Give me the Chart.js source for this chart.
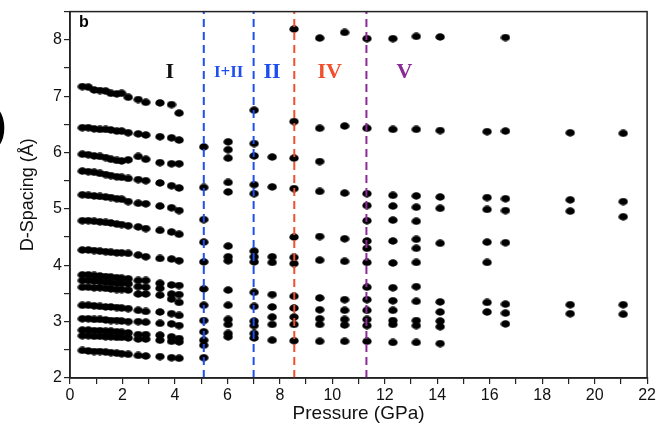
<!DOCTYPE html>
<html>
<head>
<meta charset="utf-8">
<script src="https://cdn.jsdelivr.net/npm/chart.js@4.4.1/dist/chart.umd.min.js"></script>
<style>
  html, body { margin: 0; padding: 0; background: #fff; }
  #wrap { width: 658px; height: 425px; position: relative; }
</style>
</head>
<body>
<div id="wrap"><canvas id="chart"></canvas></div>
<script>
// phase I: pressures (GPa) shared by every reflection row
const phaseIPressure = [0.47, 0.70, 0.92, 1.14, 1.36, 1.56, 1.78, 1.97, 2.22, 2.60, 2.89, 3.43, 3.87, 4.16];
// d-spacing (Å) of each reflection row, read left to right
const phaseIRows = [
  [7.17, 7.16, 7.11, 7.10, 7.09, 7.05, 7.04, 7.05, 6.98, 6.94, 6.89, 6.88, 6.85, 6.70],
  [6.44, 6.44, 6.42, 6.41, 6.41, 6.40, 6.38, 6.38, 6.35, 6.33, 6.31, 6.28, 6.26, 6.22],
  [5.97, 5.96, 5.94, 5.93, 5.91, 5.88, 5.86, 5.85, 5.87, 5.93, 5.88, 5.82, 5.80, 5.80],
  [5.67, 5.66, 5.65, 5.63, 5.61, 5.59, 5.57, 5.56, 5.54, 5.52, 5.50, 5.46, 5.41, 5.37],
  [5.25, 5.24, 5.23, 5.22, 5.21, 5.20, 5.18, 5.17, 5.13, 5.10, 5.09, 5.05, 5.02, 4.97],
  [4.79, 4.79, 4.78, 4.77, 4.76, 4.75, 4.73, 4.72, 4.70, 4.68, 4.65, 4.62, 4.59, 4.55],
  [4.27, 4.27, 4.26, 4.25, 4.24, 4.23, 4.22, 4.22, 4.21, 4.18, 4.15, 4.12, 4.11, 4.08],
  [3.83, 3.83, 3.82, 3.81, 3.80, 3.79, 3.78, 3.77, 3.76, 3.73, 3.73, 3.68, 3.65, 3.64],
  [3.73, 3.73, 3.72, 3.71, 3.70, 3.69, 3.68, 3.68, 3.67, 3.62, 3.61, 3.59, 3.49, 3.48],
  [3.61, 3.61, 3.60, 3.60, 3.59, 3.58, 3.57, 3.57, 3.56, 3.49, 3.49, 3.47, 3.40, 3.34],
  [3.29, 3.29, 3.28, 3.27, 3.26, 3.26, 3.25, 3.24, 3.23, 3.20, 3.18, 3.17, 3.14, 3.11],
  [3.05, 3.05, 3.04, 3.04, 3.03, 3.02, 3.02, 3.01, 3.00, 3.00, 2.99, 2.97, 2.96, 2.93],
  [2.85, 2.85, 2.84, 2.84, 2.83, 2.83, 2.82, 2.81, 2.80, 2.77, 2.77, 2.76, 2.73, 2.70],
  [2.75, 2.75, 2.74, 2.74, 2.73, 2.73, 2.72, 2.72, 2.71, 2.69, 2.69, 2.67, 2.65, 2.64],
  [2.49, 2.48, 2.47, 2.47, 2.46, 2.45, 2.44, 2.43, 2.42, 2.40, 2.39, 2.38, 2.36, 2.35]
];

// higher pressures: one column of d-spacings per pressure step
const highPressure = [5.1, 6.03, 7.02, 7.71, 8.54, 9.52, 10.47, 11.32, 12.31, 13.2, 14.11, 15.9, 16.6, 19.07, 21.09];
const highColumns = [
  [6.10, 5.38, 4.81, 4.41, 4.06, 3.58, 3.29, 3.02, 2.82, 2.67, 2.58, 2.36],
  [6.19, 6.05, 5.90, 5.47, 5.30, 4.34, 4.15, 4.08, 3.56, 3.29, 3.04, 2.95, 2.79, 2.73],
  [6.75, 6.16, 5.94, 5.43, 5.27, 4.25, 4.15, 4.06, 3.52, 3.27, 3.01, 2.93, 2.79, 2.71],
  [5.92, 5.39, 4.15, 4.05, 3.48, 3.26, 3.08, 2.95, 2.67],
  [8.19, 6.55, 5.90, 5.36, 4.50, 4.14, 4.03, 3.45, 3.24, 3.08, 2.95, 2.66],
  [8.03, 6.43, 5.84, 5.31, 4.51, 4.09, 3.42, 3.21, 3.05, 2.95, 2.65],
  [8.13, 6.47, 5.28, 4.47, 4.07, 3.39, 3.20, 3.04, 2.94, 2.65],
  [8.02, 6.43, 5.27, 5.06, 4.79, 4.43, 4.30, 4.05, 3.61, 3.39, 3.20, 3.04, 2.93, 2.65],
  [8.02, 6.41, 5.24, 5.05, 4.80, 4.43, 4.04, 3.60, 3.37, 3.20, 3.02, 2.95, 2.63],
  [8.06, 6.41, 5.23, 5.03, 4.78, 4.46, 4.30, 4.05, 3.62, 3.36, 3.02, 2.93, 2.63],
  [8.05, 6.39, 5.21, 5.01, 4.39, 3.35, 3.17, 3.01, 2.91, 2.61],
  [6.37, 5.20, 4.99, 4.41, 4.05, 3.34, 3.17],
  [8.04, 6.38, 5.18, 4.97, 4.40, 3.31, 3.15, 2.96],
  [6.35, 5.16, 4.96, 3.30, 3.14],
  [6.34, 5.13, 4.86, 3.30, 3.13]
];

// phase boundaries (GPa) and phase labels
const boundaries = [5.1, 7.0, 8.55, 11.3];
const boundaryColors = ["#1f4ef0", "#1f4ef0", "#f0502d", "#8b2a96"];
const phaseLabels = ["I", "I+II", "II", "IV", "V"];
const phaseLabelX = [3.8, 6.05, 7.7, 9.9, 12.75];
const phaseLabelColors = ["#111", "#1f4ef0", "#1f4ef0", "#f0502d", "#8b2a96"];

// filled ellipse used as the marker
const dot = document.createElement("canvas");
dot.width = 10;
dot.height = 8;
const dctx = dot.getContext("2d");
dctx.fillStyle = "#000";
dctx.beginPath();
dctx.ellipse(5, 4, 4.7, 3.7, 0, 0, Math.PI * 2);
dctx.fill();

const points = [];
phaseIRows.forEach((row) => {
  row.forEach((d, i) => points.push({ x: phaseIPressure[i], y: d }));
});
highColumns.forEach((col, i) => {
  col.forEach((d) => points.push({ x: highPressure[i], y: d }));
});

const datasets = boundaries.map((p, i) => ({
  type: "line",
  data: [{ x: p, y: 2 }, { x: p, y: 8.5 }],
  borderColor: boundaryColors[i],
  borderWidth: 2,
  borderDash: [8, 5],
  pointRadius: 0,
  order: 0
}));
datasets.push({
  type: "scatter",
  data: points,
  pointStyle: dot,
  order: 1
});

const labelPlugin = {
  id: "labels",
  afterDatasetsDraw(chart) {
    const ctx = chart.ctx;
    const xs = chart.scales.x;
    const ys = chart.scales.y;
    const area = chart.chartArea;
    ctx.save();
    ctx.strokeStyle = "#222";
    ctx.lineWidth = 1.5;
    ctx.strokeRect(area.left, area.top, area.right - area.left, area.bottom - area.top);
    ctx.textAlign = "center";
    ctx.textBaseline = "middle";
    phaseLabels.forEach((t, i) => {
      ctx.fillStyle = phaseLabelColors[i];
      ctx.font = t === "I+II" ? "bold 17px 'Liberation Serif'" : "bold 22px 'Liberation Serif'";
      ctx.fillText(t, xs.getPixelForValue(phaseLabelX[i]), ys.getPixelForValue(7.42));
    });
    ctx.fillStyle = "#000";
    ctx.font = "bold 16px 'Liberation Sans'";
    ctx.textAlign = "left";
    ctx.fillText("b", area.left + 9, area.top + 11);
    ctx.font = "bold 40px 'Liberation Sans'";
    ctx.fillText(")", -7, 128);
    ctx.restore();
  }
};

new Chart(document.getElementById("chart"), {
  type: "scatter",
  data: { datasets: datasets },
  options: {
    responsive: true,
    maintainAspectRatio: false,
    animation: false,
    layout: { padding: { top: 9, right: 10, left: 0, bottom: 0 } },
    plugins: { legend: { display: false }, tooltip: { enabled: false } },
    scales: {
      x: {
        type: "linear",
        min: 0,
        max: 22,
        afterFit: (scale) => { scale.height = 47; },
        ticks: {
          stepSize: 1,
          autoSkip: false,
          maxRotation: 0,
          padding: 2,
          color: "#111",
          font: { family: "'Liberation Sans'", size: 16 },
          callback: (v) => (v % 2 === 0 ? v : "")
        },
        grid: { display: true, drawOnChartArea: false, drawTicks: true, tickLength: 6, color: "#222", lineWidth: 1.2 },
        border: { display: true, color: "#222", width: 1.5 },
        title: {
          display: true,
          text: "Pressure (GPa)",
          color: "#111",
          font: { family: "'Liberation Sans'", size: 19 },
          padding: { top: 0, bottom: 0 }
        }
      },
      y: {
        min: 2,
        max: 8.5,
        afterFit: (scale) => { scale.width = 70; },
        ticks: {
          stepSize: 0.5,
          autoSkip: false,
          padding: 2,
          color: "#111",
          font: { family: "'Liberation Sans'", size: 16 },
          callback: (v) => (Number.isInteger(v) ? v : "")
        },
        grid: { display: true, drawOnChartArea: false, drawTicks: true, tickLength: 6, color: "#222", lineWidth: 1.2 },
        border: { display: true, color: "#222", width: 1.5 },
        title: {
          display: true,
          text: "D-Spacing (Å)",
          color: "#111",
          font: { family: "'Liberation Sans'", size: 18 },
          padding: { top: 17, bottom: 0 }
        }
      }
    }
  },
  plugins: [labelPlugin]
});
</script>
</body>
</html>
